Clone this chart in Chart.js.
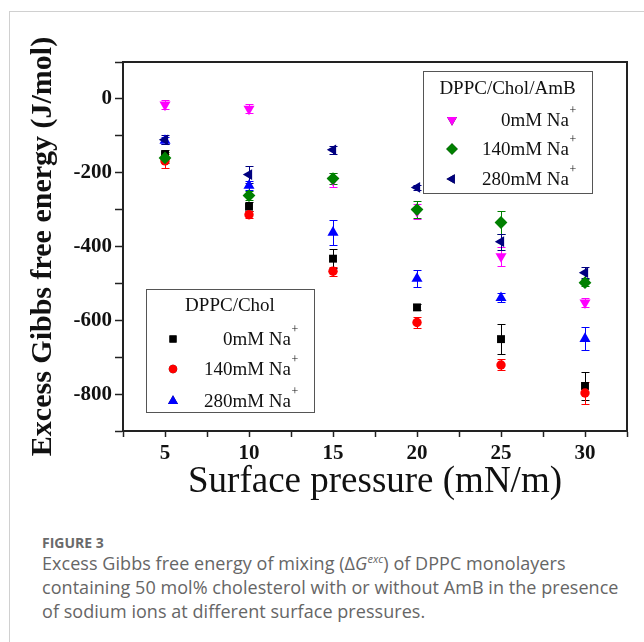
<!DOCTYPE html>
<html>
<head>
<meta charset="utf-8">
<script src="https://cdn.jsdelivr.net/npm/chart.js@4.4.0/dist/chart.umd.min.js"></script>
<style>
  html, body { margin: 0; padding: 0; background: #fff; }
  #wrap { position: relative; width: 644px; height: 642px; overflow: hidden; }
  #frameTop { position: absolute; left: 9px; top: 11px; width: 635px; height: 1px; background: #d0d0d0; }
  #frameLeft { position: absolute; left: 9px; top: 11px; width: 1px; height: 631px; background: #d0d0d0; }
  #plot { position: absolute; left: 0; top: 0; width: 644px; height: 510px; }
  #caption { position: absolute; left: 42px; top: 535px; width: 600px; font-family: "Open Sans", sans-serif; color: #666; white-space: nowrap; }
  #caption .fig { font-size: 14px; font-weight: bold; color: #6a6a6a; line-height: 16px; }
  #caption .txt { font-size: 18px; line-height: 24px; letter-spacing: 0.05px; }
</style>
</head>
<body>
<div id="wrap">
  <div id="frameTop"></div>
  <div id="frameLeft"></div>
  <div id="plot"><canvas id="chart" width="644" height="510"></canvas></div>
  <div id="caption">
    <div class="fig">FIGURE 3</div>
    <div class="txt">Excess Gibbs free energy of mixing (Δ<i>G</i><sup style="font-size:11px;font-style:italic;line-height:0;">exc</sup>) of DPPC monolayers<br>containing 50 mol% cholesterol with or without AmB in the presence<br>of sodium ions at different surface pressures.</div>
  </div>
</div>
<script>
// surface pressure (mN/m)
const pressure = [5, 10, 15, 20, 25, 30];

// DPPC/Chol
const chol0 = [-150, -292, -433, -565, -651, -778];
const chol0Err = [12, 12, 25, 8, 40, 37];
const chol140 = [-168, -314, -467, -606, -721, -797];
const chol140Err = [20, 10, 12, 14, 15, 30];
const chol280 = [-113, -235, -362, -487, -539, -650];
const chol280Err = [10, 12, 35, 22, 12, 31];

// DPPC/Chol/AmB
const amb0 = [-16, -27, -220, -305, -427, -552];
const amb0Err = [12, 12, 18, 20, 25, 12];
const amb140 = [-160, -262, -216, -300, -335, -498];
const amb140Err = [15, 12, 15, 24, 30, 10];
const amb280 = [-111, -205, -138, -240, -387, -471];
const amb280Err = [12, 22, 10, 8, 22, 15];

const seriesLabels = ['0mM Na', '140mM Na', '280mM Na'];

const serif = '"Liberation Serif", "Times New Roman", serif';

function pts(vals) {
    return pressure.map((p, i) => ({ x: p, y: vals[i] }));
}

function series(label, vals, errs, color, style, radius, rotation, order) {
    return {
        label: label,
        data: pts(vals),
        errors: errs,
        backgroundColor: color,
        borderColor: color,
        borderWidth: 0,
        pointStyle: style,
        pointRadius: radius,
        pointHoverRadius: radius,
        pointRotation: rotation,
        showLine: false,
        order: order
    };
}

const datasets = [
    series('chol0', chol0, chol0Err, '#000000', 'rect', 5.6, 0, 5),
    series('chol140', chol140, chol140Err, '#ff0000', 'circle', 4.7, 0, 4),
    series('chol280', chol280, chol280Err, '#0000ff', 'triangle', 6.4, 0, 3),
    series('amb0', amb0, amb0Err, '#ff00ff', 'triangle', 6.4, 180, 2),
    series('amb140', amb140, amb140Err, '#008000', 'rectRot', 6.4, 0, 1),
    series('amb280', amb280, amb280Err, '#000080', 'triangle', 6.2, 270, 0)
];

const errorBars = {
    id: 'errorBars',
    beforeDatasetsDraw(chart) {
        const ctx = chart.ctx;
        const ys = chart.scales.y;
        ctx.save();
        chart.data.datasets.forEach((ds, i) => {
            const meta = chart.getDatasetMeta(i);
            ctx.strokeStyle = ds.borderColor;
            ctx.lineWidth = 1;
            meta.data.forEach((pt, j) => {
                const v = ds.data[j].y;
                const e = ds.errors[j];
                const top = Math.round(ys.getPixelForValue(v + e)) + 0.5;
                const bot = Math.round(ys.getPixelForValue(v - e)) + 0.5;
                const x = Math.round(pt.x) + 0.5;
                ctx.beginPath();
                ctx.moveTo(x, top); ctx.lineTo(x, bot);
                ctx.moveTo(x - 4, top); ctx.lineTo(x + 4, top);
                ctx.moveTo(x - 4, bot); ctx.lineTo(x + 4, bot);
                ctx.stroke();
            });
        });
        ctx.restore();
    }
};

function drawLegend(ctx, box, title, dsList, markerX, textRight, rowsY, titleY) {
    ctx.save();
    ctx.strokeStyle = '#555';
    ctx.lineWidth = 1;
    ctx.fillStyle = '#fff';
    ctx.fillRect(box[0], box[1], box[2] - box[0], box[3] - box[1]);
    ctx.strokeRect(box[0] + 0.5, box[1] + 0.5, box[2] - box[0], box[3] - box[1]);
    ctx.fillStyle = '#111';
    ctx.font = '19px ' + serif;
    ctx.textBaseline = 'middle';
    ctx.textAlign = 'center';
    ctx.fillText(title, (box[0] + box[2]) / 2, titleY);
    dsList.forEach((ds, k) => {
        const y = rowsY[k];
        Chart.helpers.drawPoint(ctx, {
            pointStyle: ds.pointStyle,
            radius: ds.pointRadius * 0.9,
            rotation: ds.pointRotation,
            borderWidth: 0
        }, markerX, y);
        ctx.fillStyle = ds.backgroundColor;
        ctx.fill();
        ctx.fillStyle = '#111';
        ctx.font = '19px ' + serif;
        ctx.textAlign = 'right';
        ctx.fillText(seriesLabels[k], textRight, y + 1);
        ctx.font = '12px ' + serif;
        ctx.textAlign = 'left';
        ctx.fillText('+', textRight + 0.5, y - 9);
    });
    ctx.restore();
}

const frameAndLegends = {
    id: 'frameAndLegends',
    afterDraw(chart) {
        const ctx = chart.ctx;
        const a = chart.chartArea;
        ctx.save();
        ctx.strokeStyle = '#222';
        ctx.lineWidth = 2;
        ctx.beginPath();
        ctx.moveTo(a.left, a.top);
        ctx.lineTo(a.right, a.top);
        ctx.lineTo(a.right, a.bottom);
        ctx.stroke();
        ctx.restore();
        const ds = chart.data.datasets;
        drawLegend(ctx, [423, 71, 592, 193], 'DPPC/Chol/AmB', [ds[3], ds[4], ds[5]],
            452, 569, [120, 149, 179], 89);
        drawLegend(ctx, [146, 289, 314, 412], 'DPPC/Chol', [ds[0], ds[1], ds[2]],
            173, 291, [339, 369, 401], 306);
    }
};

new Chart(document.getElementById('chart'), {
    type: 'scatter',
    data: { datasets: datasets },
    plugins: [errorBars, frameAndLegends],
    options: {
        responsive: false,
        animation: false,
        events: [],
        layout: { padding: { top: 62, right: 17, left: 0, bottom: 0 } },
        plugins: { legend: { display: false }, tooltip: { enabled: false } },
        scales: {
            x: {
                type: 'linear',
                min: 2.5,
                max: 32.5,
                afterFit: s => { s.height = 79; },
                ticks: {
                    stepSize: 2.5,
                    autoSkip: false,
                    maxRotation: 0,
                    padding: 4,
                    color: '#111',
                    font: { family: serif, weight: 'bold', size: 21 },
                    callback: v => (v % 5 === 0 ? v : '')
                },
                grid: { drawOnChartArea: false, tickLength: 6, tickColor: '#222', tickWidth: 1.5 },
                border: { color: '#222', width: 2 },
                title: {
                    display: true,
                    text: 'Surface pressure (mN/m)',
                    color: '#111',
                    font: { family: serif, size: 37, lineHeight: 1 },
                    padding: { top: 0, bottom: 9 }
                }
            },
            y: {
                min: -900,
                max: 100,
                afterFit: s => { s.width = 123; },
                ticks: {
                    stepSize: 100,
                    autoSkip: false,
                    padding: 3,
                    color: '#111',
                    font: { family: serif, weight: 'bold', size: 21 },
                    callback: v => (v % 200 === 0 ? String(v) : '')
                },
                grid: { drawOnChartArea: false, tickLength: 8, tickColor: '#222', tickWidth: 1.5 },
                border: { color: '#222', width: 2 },
                title: {
                    display: true,
                    text: 'Excess Gibbs free energy (J/mol)',
                    color: '#111',
                    font: { family: serif, weight: 'bold', size: 30, lineHeight: 1 },
                    padding: { top: 28, bottom: 0 }
                }
            }
        }
    }
});
</script>
</body>
</html>
